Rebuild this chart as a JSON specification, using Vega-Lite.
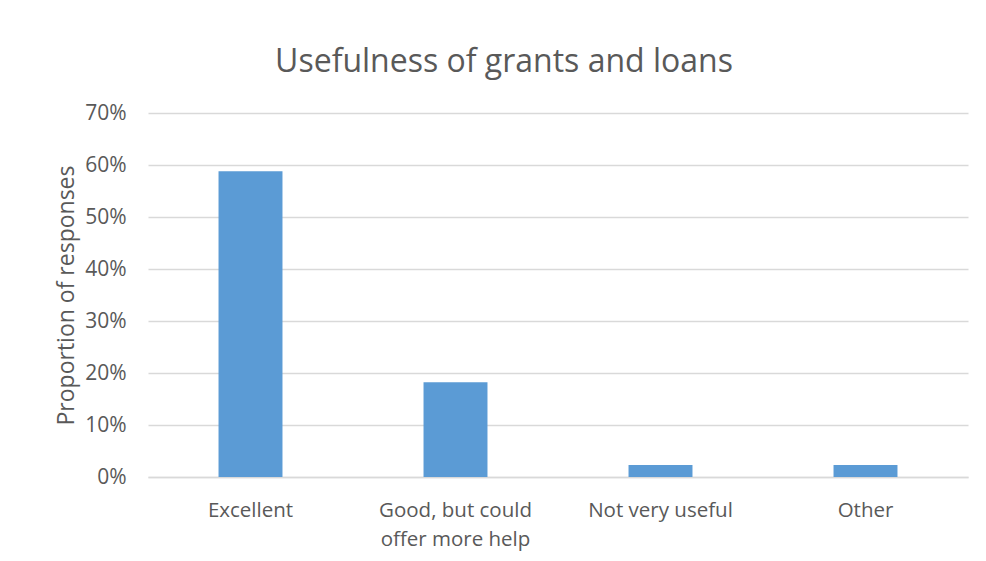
{
  "$schema": "https://vega.github.io/schema/vega-lite/v6.json",
  "width": 820,
  "height": 364,
  "autosize": {"type": "none"},
  "padding": {"left": 148, "top": 113, "right": 18, "bottom": 84},
  "background": "white",
  "title": {
    "text": "Usefulness of grants and loans",
    "font": "Open Sans",
    "fontSize": 32,
    "fontWeight": "normal",
    "color": "#595959",
    "anchor": "middle",
    "dx": -54,
    "offset": 23
  },
  "data": {
    "values": [
      {"response": "Excellent", "share": 0.588},
      {"response": "Good, but could offer more help", "share": 0.182},
      {"response": "Not very useful", "share": 0.023},
      {"response": "Other", "share": 0.023}
    ]
  },
  "mark": {"type": "bar", "color": "#5b9bd5", "width": {"band": 0.312}},
  "encoding": {
    "x": {
      "field": "response",
      "type": "nominal",
      "sort": null,
      "scale": {"paddingInner": 0, "paddingOuter": 0},
      "axis": {
        "title": null,
        "labelAngle": 0,
        "labelFont": "Open Sans",
        "labelFontSize": 20.5,
        "labelColor": "#595959",
        "labelPadding": 23,
        "labelLineHeight": 29,
        "labelExpr": "datum.label == 'Good, but could offer more help' ? ['Good, but could', 'offer more help'] : datum.label",
        "ticks": false,
        "domain": true,
        "domainColor": "#d9d9d9",
        "domainWidth": 1.5,
        "grid": false
      }
    },
    "y": {
      "field": "share",
      "type": "quantitative",
      "scale": {"domain": [0, 0.7]},
      "axis": {
        "title": "Proportion of responses",
        "titleFont": "Open Sans",
        "titleFontSize": 23,
        "titleFontWeight": "normal",
        "titleColor": "#595959",
        "titlePadding": 6,
        "values": [0, 0.1, 0.2, 0.3, 0.4, 0.5, 0.6, 0.7],
        "format": ".0%",
        "labelFont": "Open Sans",
        "labelFontSize": 21,
        "labelColor": "#595959",
        "labelPadding": 22,
        "ticks": false,
        "domain": false,
        "grid": true,
        "gridColor": "#d9d9d9",
        "gridWidth": 1.5
      }
    }
  },
  "config": {"view": {"stroke": null}}
}
